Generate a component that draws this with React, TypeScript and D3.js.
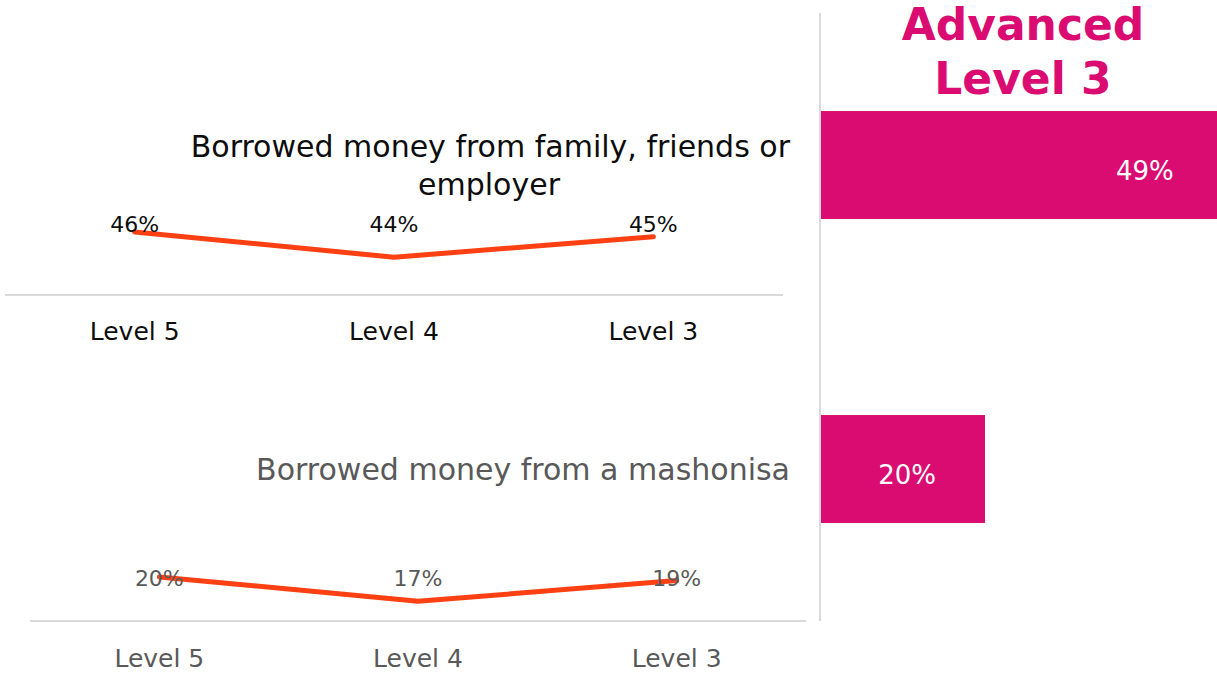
import * as d3 from "d3";

const levels = ["Level 5", "Level 4", "Level 3"];
const familyValues = [0.456, 0.435, 0.452];
const mashonisaValues = [0.196, 0.169, 0.192];
const familyLabels = ["46%", "44%", "45%"];
const mashonisaLabels = ["20%", "17%", "19%"];

const barCategories = ["family", "mashonisa"];
const barValues = [0.49, 0.2];
const barLabels = ["49%", "20%"];
const chartTitle = ["Advanced", "Level 3"];

const W = 1217;
const H = 678;
const PINK = "#DA0C72";
const LINE = "#FF4013";
const FONT = "'DejaVu Sans', sans-serif";

const fmt = d3.format(".0%");

type PanelProps = {
  values: number[];
  labels: string[];
  x0: number;
  x1: number;
  axisY: number;
  domain: [number, number];
  pxTop: number;
  labelY: number;
  catY: number;
  color: string;
  title: string[];
  titleY: number;
};

const LinePanel = (p: PanelProps) => {
  const x = d3.scalePoint<string>().domain(levels).range([p.x0, p.x1]).padding(0.5);
  const y = d3.scaleLinear().domain(p.domain).range([p.axisY, p.pxTop]);
  const line = d3
    .line<number>()
    .x((_, i) => x(levels[i]) as number)
    .y((d) => y(d));

  return (
    <g>
      {p.title.length === 2 ? (
        <text fontFamily={FONT} fontSize={30} fill={p.color}>
          <tspan x={790} y={p.titleY} textAnchor="end">{p.title[0]}</tspan>
          <tspan x={489} y={p.titleY + 38} textAnchor="middle">{p.title[1]}</tspan>
        </text>
      ) : (
        <text x={790} y={p.titleY} textAnchor="end" fontFamily={FONT} fontSize={30} fill={p.color}>
          {p.title[0]}
        </text>
      )}
      <line x1={p.x0} x2={p.x1} y1={p.axisY} y2={p.axisY} stroke="#d9d9d9" strokeWidth={2} />
      <path d={line(p.values) ?? ""} fill="none" stroke={LINE} strokeWidth={5} strokeLinecap="round" strokeLinejoin="round" />
      {p.values.map((v, i) => (
        <text
          key={"v" + i}
          x={x(levels[i])}
          y={p.labelY}
          textAnchor="middle"
          fontFamily={FONT}
          fontSize={22}
          fill={p.color}
        >
          {p.labels[i] ?? fmt(v)}
        </text>
      ))}
      {levels.map((l) => (
        <text key={l} x={x(l)} y={p.catY} textAnchor="middle" fontFamily={FONT} fontSize={25} fill={p.color}>
          {l}
        </text>
      ))}
    </g>
  );
};

const App = () => {
  const xBar = d3.scaleLinear().domain([0, 0.5]).range([821, 1231]);
  const yBar = d3.scaleBand<string>().domain(barCategories).range([13, 621]).paddingInner(0.645).paddingOuter(0.3225);

  return (
    <svg width={W} height={H} style={{ position: "absolute", left: 0, top: 0, background: "#fff" }}>
      <LinePanel
        values={familyValues}
        labels={familyLabels}
        x0={5}
        x1={783}
        axisY={295}
        domain={[0.4035, 0.47]}
        pxTop={215.2}
        labelY={232}
        catY={340}
        color="#0d0d0d"
        title={["Borrowed money from family, friends or", "employer"]}
        titleY={157}
      />
      <LinePanel
        values={mashonisaValues}
        labels={mashonisaLabels}
        x0={30}
        x1={806}
        axisY={621}
        domain={[0.1471, 0.22]}
        pxTop={555.3}
        labelY={586}
        catY={667}
        color="#595959"
        title={["Borrowed money from a mashonisa"]}
        titleY={480}
      />

      <text fontFamily={FONT} fontWeight="bold" fontSize={44} fill={PINK} textAnchor="middle">
        <tspan x={1023} y={40}>{chartTitle[0]}</tspan>
        <tspan x={1023} y={94}>{chartTitle[1]}</tspan>
      </text>

      {barCategories.map((c, i) => (
        <g key={c}>
          <rect
            x={xBar(0)}
            y={yBar(c)}
            width={xBar(barValues[i]) - xBar(0)}
            height={yBar.bandwidth()}
            fill={PINK}
          />
          <text
            x={xBar(barValues[i]) - 49}
            y={(yBar(c) as number) + yBar.bandwidth() / 2 + 6}
            dy="0.35em"
            textAnchor="end"
            fontFamily={FONT}
            fontSize={26}
            fill="#fff"
          >
            {barLabels[i]}
          </text>
        </g>
      ))}
      <line x1={820} x2={820} y1={13} y2={621} stroke="#d9d9d9" strokeWidth={2} />
    </svg>
  );
};

export default App;
